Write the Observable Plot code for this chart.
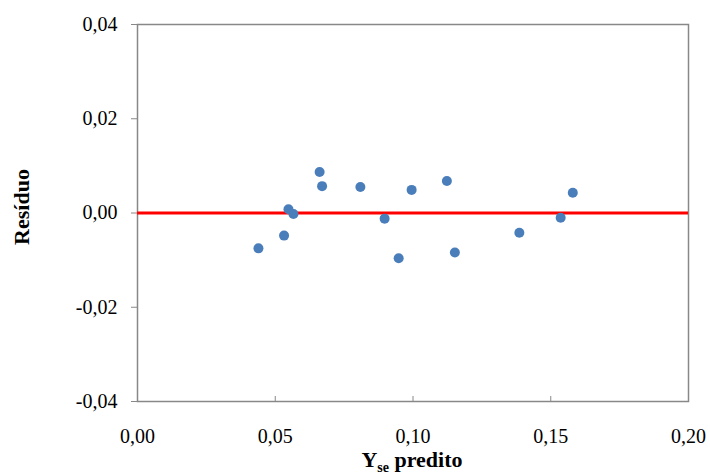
<!DOCTYPE html>
<html>
<head>
<meta charset="utf-8">
<script src="https://cdn.jsdelivr.net/npm/d3@7"></script>
<script src="https://cdn.jsdelivr.net/npm/@observablehq/plot@0.6"></script>
<style>
  html, body { margin: 0; padding: 0; background: #fff; }
  #chart { width: 710px; height: 474px; }
</style>
</head>
<body>
<div id="chart"></div>
<script>
// Data
const predicted = [0.0439, 0.0532, 0.0548, 0.0566, 0.0661, 0.0670, 0.0809, 0.0897, 0.0948, 0.0995, 0.1123, 0.1152, 0.1386, 0.1536, 0.1580];
const residuals = [-0.0075, -0.0048, 0.0008, -0.0002, 0.0087, 0.0057, 0.0055, -0.0012, -0.0096, 0.0049, 0.0068, -0.0084, -0.0042, -0.0010, 0.0043];
const xTicks = [0, 0.05, 0.10, 0.15, 0.20];
const yTicks = [-0.04, -0.02, 0, 0.02, 0.04];
const yLabel = "Resíduo";
const xLabelMain = "Y";
const xLabelSub = "se";
const xLabelRest = " predito";

const points = predicted.map((x, i) => ({x, y: residuals[i]}));
const locale = d3.formatLocale({decimal: ",", thousands: ".", grouping: [3], currency: ["", ""], minus: "-"});
const fmt = locale.format(".2f");

const W = 710, H = 474;
const family = "Liberation Serif";
const chart = Plot.plot({
  width: W,
  height: H,
  marginLeft: 137,
  marginRight: 22,
  marginTop: 24,
  marginBottom: 73,
  style: {fontFamily: family, fontSize: "20px", color: "#000", background: "#fff"},
  x: {domain: [0, 0.2]},
  y: {domain: [-0.04, 0.04]},
  marks: [
    Plot.frame({stroke: "#888888", strokeWidth: 1.5}),
    Plot.axisY({ticks: yTicks, tickFormat: fmt, tickSize: 6, tickPadding: 14, stroke: "#888888", label: null, fill: "#000", fontSize: 20}),
    Plot.axisX({ticks: xTicks, tickFormat: fmt, tickSize: -5, tickPadding: 32, stroke: "#888888", label: null, fill: "#000", fontSize: 20}),
    Plot.ruleY([0], {stroke: "#ff0000", strokeWidth: 3}),
    Plot.dot(points, {x: "x", y: "y", r: 5, fill: "#4a7ebb", stroke: null})
  ]
});
document.getElementById("chart").appendChild(chart);

const svg = d3.select(chart);
svg.append("text")
  .attr("transform", "translate(21,207) rotate(-90)")
  .attr("text-anchor", "middle")
  .attr("dominant-baseline", "central")
  .attr("font-family", family)
  .attr("font-size", 22)
  .attr("font-weight", "bold")
  .attr("fill", "#000")
  .text(yLabel);
const xl = svg.append("text")
  .attr("x", 412)
  .attr("y", 467)
  .attr("text-anchor", "middle")
  .attr("font-family", family)
  .attr("font-size", 22)
  .attr("font-weight", "bold")
  .attr("fill", "#000");
xl.append("tspan").text(xLabelMain);
xl.append("tspan").attr("font-size", 14).attr("dy", 5).text(xLabelSub);
xl.append("tspan").attr("dy", -5).text(xLabelRest);
</script>
</body>
</html>
